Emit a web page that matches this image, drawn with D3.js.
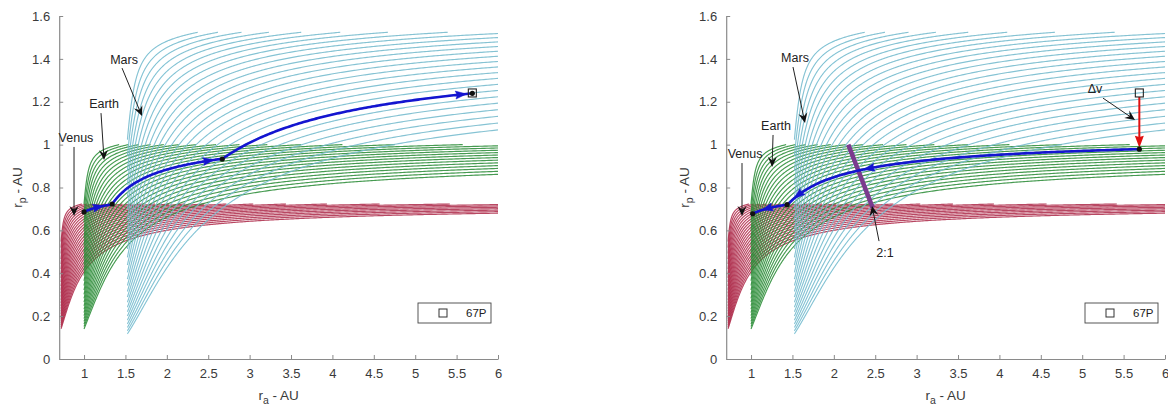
<!DOCTYPE html>
<html><head><meta charset="utf-8">
<script src="https://cdn.jsdelivr.net/npm/d3@7"></script>
<style>
body{margin:0;background:#fff}
svg text{font-family:"Liberation Sans",Arial,Helvetica,sans-serif}
</style>
</head><body>
<svg id="chart" width="1168" height="408"></svg>
<script>
// ---------------- data ----------------
const planets = ["Venus", "Earth", "Mars"];
const planetRadiusAU = [0.723, 1.0, 1.524];
const earthSpeedKms = 29.78;
const vinfLevels = [2.5, 3, 3.5, 4, 4.5, 5, 5.5, 6, 6.5, 7, 7.5, 8, 8.5, 9, 9.5, 10, 10.5, 11, 11.5, 12, 12.5, 13, 13.5, 14, 14.5, 15];
const xTicks = [1, 1.5, 2, 2.5, 3, 3.5, 4, 4.5, 5, 5.5, 6];
const yTicks = [0, 0.2, 0.4, 0.6, 0.8, 1, 1.2, 1.4, 1.6];
const xTickLabels = ["1", "1.5", "2", "2.5", "3", "3.5", "4", "4.5", "5", "5.5", "6"];
const yTickLabels = ["0", "0.2", "0.4", "0.6", "0.8", "1", "1.2", "1.4", "1.6"];
const xDomain = [0.7, 6];
const yDomain = [0, 1.6];
const cometName = "67P";
const cometRa = 5.69;
const cometRp = 1.241;

// trajectory legs: planet, start (ra, rp), end ra
const leftLegPlanet = ["Venus", "Earth", "Mars"];
const leftLegStart = [[1.0, 0.686], [1.34, 0.723], [2.67, 0.933]];
const leftLegEndRa = [1.34, 2.67, 5.69];
const leftArrowRa = [[1.24], [2.57], [5.62]];

const rightLegPlanet = ["Earth", "Venus"];
const rightLegStart = [[5.69, 0.979], [1.435, 0.72]];
const rightLegEndRa = [1.435, 1.02];
const rightArrowRa = [[2.36, 1.52], [1.13]];
const rightDeltaVEnd = 0.985;

// 2:1 Earth resonance line (rp range)
const resonancePeriodRatio = 2;
const resonanceRpRange = [0.705, 1.0];

// annotations: text, text position, arrow start, arrow end (data units)
const leftNotes = [
  {text: "Mars",  at: [1.483, 1.395], from: [1.459, 1.357], to: [1.700, 1.133]},
  {text: "Earth", at: [1.242, 1.189], from: [1.205, 1.147], to: [1.242, 0.928]},
  {text: "Venus", at: [0.903, 1.031], from: [0.879, 0.989], to: [0.879, 0.667]}
];
const rightNotes = [
  {text: "Mars",  at: [1.531, 1.404], from: [1.507, 1.362], to: [1.652, 1.101]},
  {text: "Earth", at: [1.302, 1.087], from: [1.266, 1.045], to: [1.254, 0.896]},
  {text: "Venus", at: [0.928, 0.956], from: [0.891, 0.914], to: [0.891, 0.667]},
  {text: "2:1",   at: [2.618, 0.494], from: [2.546, 0.550], to: [2.461, 0.714]},
  {text: "\u0394v", at: [5.155, 1.259], from: [5.251, 1.217], to: [5.638, 1.115]}
];

// ---------------- styles ----------------
const planetColor = {Venus: "#c02a4d", Earth: "#2b9637", Mars: "#7fcbe0"};
const axisColor = "#8a8a8a";
const textColor = "#3a3a3a";
const panels = [
  {x0: 59.2, x1: 498, legs: "left"},
  {x0: 726.2, x1: 1165, legs: "right"}
];
const yTop = 16, yBottom = 359;

// ---------------- Tisserand helpers ----------------
function tiss(x, y) { const s = x + y; return 2 / s + 2 * Math.sqrt(2 * x * y / s); }
function solveRp(xn, Tt) { // normalized rp in [0,1], or null if beyond
  if (tiss(xn, 1) < Tt) return null;
  let lo = 0, hi = 1;
  for (let i = 0; i < 50; i++) { const m = (lo + hi) / 2; if (tiss(xn, m) < Tt) lo = m; else hi = m; }
  return (lo + hi) / 2;
}
function familyCurve(R, Tt, raMax) {
  const pts = [];
  const n = 400;
  let prevXn = 1;
  for (let i = 0; i <= n; i++) {
    const t = i / n;
    const ra = R + (raMax - R) * Math.pow(t, 2.2);
    const xn = ra / R;
    const y = solveRp(xn, Tt);
    if (y === null) {
      let lo = prevXn, hi = xn;
      for (let k = 0; k < 50; k++) { const m = (lo + hi) / 2; if (tiss(m, 1) >= Tt) lo = m; else hi = m; }
      pts.push([lo * R, R]);
      break;
    }
    pts.push([ra, y * R]);
    prevXn = xn;
  }
  return pts;
}
function legCurve(R, start, endRa) {
  const Tt = tiss(start[0] / R, start[1] / R);
  const pts = [];
  const n = 120;
  for (let i = 0; i <= n; i++) {
    const ra = start[0] + (endRa - start[0]) * i / n;
    let y = solveRp(ra / R, Tt);
    if (y === null) y = 1;
    pts.push([ra, y * R]);
  }
  return {pts, Tt};
}
function rpOnLeg(R, Tt, ra) { let y = solveRp(ra / R, Tt); if (y === null) y = 1; return y * R; }

function headPath(tip, from, len, wid, notch) {
  let dx = tip[0] - from[0], dy = tip[1] - from[1];
  const L = Math.hypot(dx, dy) || 1; dx /= L; dy /= L;
  const px = -dy, py = dx;
  const bx = tip[0] - dx * len, by = tip[1] - dy * len;
  const nx = tip[0] - dx * len * (1 - notch), ny = tip[1] - dy * len * (1 - notch);
  return `M${tip[0]},${tip[1]}L${bx + px * wid / 2},${by + py * wid / 2}L${nx},${ny}L${bx - px * wid / 2},${by - py * wid / 2}Z`;
}

// ---------------- draw ----------------
const svg = d3.select("#chart");

panels.forEach((P, pi) => {
  const x = d3.scaleLinear().domain(xDomain).range([P.x0, P.x1]);
  const y = d3.scaleLinear().domain(yDomain).range([yBottom, yTop]);
  const line = d3.line().x(d => x(d[0])).y(d => y(d[1]));
  const g = svg.append("g");

  // Tisserand families
  planets.forEach((name, k) => {
    const R = planetRadiusAU[k];
    const vp = earthSpeedKms / Math.sqrt(R);
    const gg = g.append("g");
    vinfLevels.forEach(v => {
      const kk = v / vp;
      const pts = familyCurve(R, 3 - kk * kk, xDomain[1]);
      gg.append("path").attr("d", line(pts)).attr("fill", "none")
        .attr("stroke", planetColor[name]).attr("stroke-width", 1.15).attr("stroke-opacity", 0.85);
      gg.append("path").attr("d", line(pts)).attr("fill", "none")
        .attr("stroke", "#2a3a3a").attr("stroke-width", 0.35).attr("stroke-opacity", 0.35);
    });
  });

  // axes
  const ax = g.append("g").attr("transform", `translate(0,${yBottom})`)
    .call(d3.axisBottom(x).tickValues(xTicks).tickFormat((d, i) => xTickLabels[i]).tickSizeInner(-4).tickSizeOuter(0).tickPadding(10));
  const ay = g.append("g").attr("transform", `translate(${P.x0},0)`)
    .call(d3.axisLeft(y).tickValues(yTicks).tickFormat((d, i) => yTickLabels[i]).tickSizeInner(-4).tickSizeOuter(0).tickPadding(9));
  [ax, ay].forEach(a => {
    a.select(".domain").attr("stroke", axisColor).attr("stroke-width", 1.2);
    a.selectAll(".tick line").attr("stroke", axisColor);
    a.selectAll(".tick text").attr("fill", textColor).style("font-size", "13px");
  });
  ax.selectAll(".tick line").attr("y1", 0).attr("y2", -4);

  // axis labels
  const xl = g.append("text").attr("x", (P.x0 + P.x1) / 2).attr("y", 400)
    .attr("text-anchor", "middle").attr("fill", textColor).style("font-size", "13.5px");
  xl.append("tspan").text("r");
  xl.append("tspan").attr("dy", 4).style("font-size", "10.5px").text("a");
  xl.append("tspan").attr("dy", -4).text(" - AU");
  const yl = g.append("text").attr("transform", `translate(${P.x0 - 37},${(yTop + yBottom) / 2}) rotate(-90)`)
    .attr("text-anchor", "middle").attr("fill", textColor).style("font-size", "13.5px");
  yl.append("tspan").text("r");
  yl.append("tspan").attr("dy", 4).style("font-size", "10.5px").text("p");
  yl.append("tspan").attr("dy", -4).text(" - AU");

  const blue = "#1414d0";
  const dots = [];
  if (P.legs === "right") {
    // resonance line
    const aRes = planetRadiusAU[1] * Math.pow(resonancePeriodRatio, 2 / 3);
    const resPts = resonanceRpRange.map(rp => [2 * aRes - rp, rp]);
    g.append("path").attr("d", line(resPts)).attr("stroke", "#7b3a8e").attr("stroke-width", 4.5).attr("fill", "none");
  }

  const legPlanet = P.legs === "left" ? leftLegPlanet : rightLegPlanet;
  const legStart = P.legs === "left" ? leftLegStart : rightLegStart;
  const legEnd = P.legs === "left" ? leftLegEndRa : rightLegEndRa;
  const legArrows = P.legs === "left" ? leftArrowRa : rightArrowRa;
  legPlanet.forEach((name, i) => {
    const R = planetRadiusAU[planets.indexOf(name)];
    const leg = legCurve(R, legStart[i], legEnd[i]);
    g.append("path").attr("d", line(leg.pts)).attr("fill", "none").attr("stroke", blue).attr("stroke-width", 2.6);
    const dir = Math.sign(legEnd[i] - legStart[i][0]);
    legArrows[i].forEach(ra => {
      const tip = [x(ra), y(rpOnLeg(R, leg.Tt, ra))];
      const ra0 = ra - dir * 0.05;
      const back = [x(ra0), y(rpOnLeg(R, leg.Tt, ra0))];
      g.append("path").attr("d", headPath(tip, back, 11, 8, 0.15)).attr("fill", blue).attr("stroke", blue).attr("stroke-width", 0.5);
    });
    dots.push(legStart[i]);
    if (i === legPlanet.length - 1) dots.push(leg.pts[leg.pts.length - 1]);
  });

  if (P.legs === "right") {
    // delta-v arrow
    const tip = [x(cometRa), y(rightDeltaVEnd)];
    g.append("line").attr("x1", x(cometRa)).attr("x2", x(cometRa))
      .attr("y1", y(cometRp) + 4).attr("y2", tip[1] - 8).attr("stroke", "#e01010").attr("stroke-width", 2);
    g.append("path").attr("d", headPath(tip, [tip[0], tip[1] - 20], 12, 9, 0.1)).attr("fill", "#e01010");
  }

  g.selectAll(".dot").data(dots).enter().append("circle")
    .attr("cx", d => x(d[0])).attr("cy", d => y(d[1])).attr("r", 2.6).attr("fill", "#111");

  // comet marker
  g.append("rect").attr("x", x(cometRa) - 4).attr("y", y(cometRp) - 4).attr("width", 8).attr("height", 8)
    .attr("fill", "none").attr("stroke", "#222").attr("stroke-width", 1.1);

  // annotations
  const notes = P.legs === "left" ? leftNotes : rightNotes;
  notes.forEach(n => {
    const a = [x(n.from[0]), y(n.from[1])], b = [x(n.to[0]), y(n.to[1])];
    let dx = b[0] - a[0], dy = b[1] - a[1]; const L = Math.hypot(dx, dy);
    g.append("line").attr("x1", a[0]).attr("y1", a[1]).attr("x2", b[0] - dx / L * 6).attr("y2", b[1] - dy / L * 6)
      .attr("stroke", "#222").attr("stroke-width", 1);
    g.append("path").attr("d", headPath(b, a, 10, 9, 0.35)).attr("fill", "#111");
    g.append("text").attr("x", x(n.at[0])).attr("y", y(n.at[1])).attr("dy", "0.35em")
      .attr("text-anchor", "middle").attr("fill", "#222").style("font-size", "12.5px").text(n.text);
  });

  // legend
  const lw = 73, lh = 20;
  const lx = P.x1 - 7 - lw, ly = yBottom - 36 - lh;
  g.append("rect").attr("x", lx).attr("y", ly).attr("width", lw).attr("height", lh)
    .attr("fill", "#fff").attr("stroke", "#444").attr("stroke-width", 0.9);
  g.append("rect").attr("x", lx + 21).attr("y", ly + lh / 2 - 4).attr("width", 8).attr("height", 8)
    .attr("fill", "none").attr("stroke", "#333").attr("stroke-width", 1);
  g.append("text").attr("x", lx + 48).attr("y", ly + lh / 2).attr("dy", "0.35em")
    .attr("fill", "#222").style("font-size", "11.5px").text(cometName);
});
</script>
</body></html>
